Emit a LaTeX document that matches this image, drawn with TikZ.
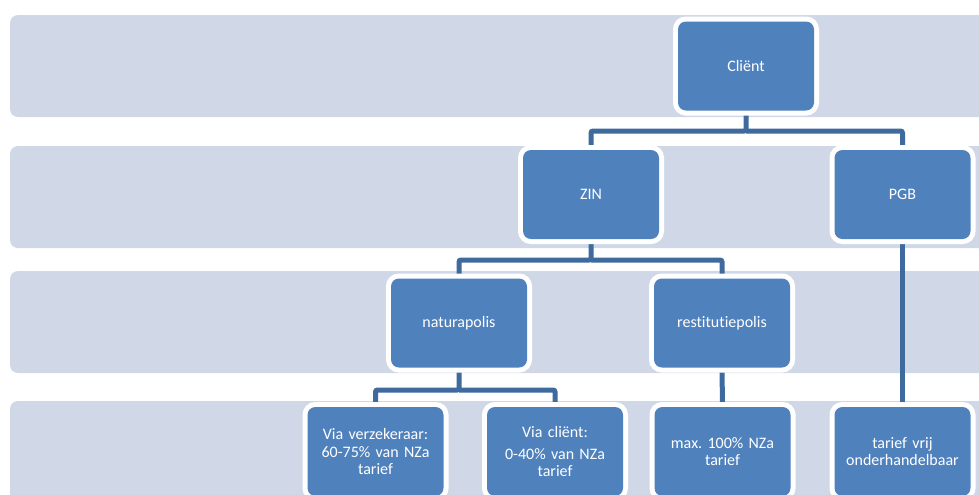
\documentclass[tikz,border=0pt]{standalone}
\usepackage{fontspec}
\setmainfont{Carlito}[Ligatures=NoCommon]
\usetikzlibrary{backgrounds}
\pgfdeclarelayer{bands}
\pgfsetlayers{bands,background,main}
\definecolor{bandc}{HTML}{D0D8E8}
\definecolor{boxc}{HTML}{4F81BD}
\definecolor{linec}{HTML}{3F6A9E}
\tikzset{
  box/.style={rounded corners=6pt, fill=boxc, preaction={draw=white, line width=7.5pt},
    minimum width=102pt, minimum height=66.75pt, text width=98pt, align=center,
    text=white, font=\fontsize{12}{12.8}\selectfont, inner sep=0pt},
  band/.style={fill=bandc, rounded corners=6pt},
  conn/.style={draw=linec, line width=3.75pt, rounded corners=1.5pt}
}
\begin{document}
\frenchspacing
\begin{tikzpicture}[x=0.75pt, y=-0.75pt]
\useasboundingbox (0,0) rectangle (979,494);
\begin{pgfonlayer}{bands}
\fill[white] (0,0) rectangle (979,494);
\fill[band] (10,15) rectangle (1000,117);
\fill[band] (10,146) rectangle (1000,248);
\fill[band] (10,271) rectangle (1000,373);
\fill[band] (10,401) rectangle (1000,530);
\end{pgfonlayer}
\node[box] (clnt) at (746,66) {Cliënt};
\node[box] (zin) at (591,194.5) {ZIN};
\node[box] (pgb) at (902.5,194.5) {PGB};
\node[box] (natura) at (459,323) {naturapolis};
\node[box] (restit) at (722,323) {restitutiepolis};
\node[box] (viaverz) at (375.5,451.5) {Via verzekeraar:\\60-75\% van NZa\\tarief};
\node[box] (viaclnt) at (555,451.5) {Via cliënt:\\[4pt]0-40\% van NZa\\tarief};
\node[box] (max) at (722.5,451.5) {max. 100\% NZa\\tarief};
\node[box] (vrij) at (902.5,451.5) {tarief vrij\\onderhandelbaar};
\begin{pgfonlayer}{background}
\coordinate (j1) at (clnt.south |- 0,131);
\coordinate (j2) at (zin.south |- 0,260);
\coordinate (j3) at (natura.south |- 0,390);
\draw[conn] (clnt.south) -- (j1) -| (zin.north);
\draw[conn] (j1) -| (pgb.north);
\draw[conn] (zin.south) -- (j2) -| (natura.north);
\draw[conn] (j2) -| (restit.north);
\draw[conn] (natura.south) -- (j3) -| (viaverz.north);
\draw[conn] (j3) -| (viaclnt.north);
\draw[conn] (restit.south) -- (max.north);
\draw[conn] (pgb.south) -- (vrij.north);
\end{pgfonlayer}
\end{tikzpicture}
\end{document}
